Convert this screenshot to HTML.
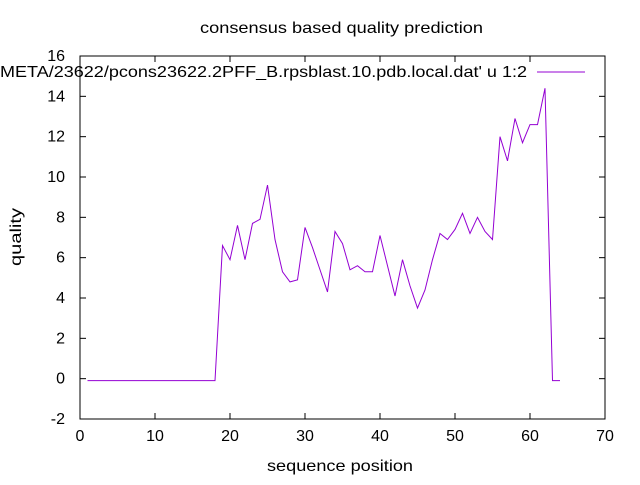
<!DOCTYPE html>
<html><head><meta charset="utf-8"><style>
body{margin:0;background:#fff}
svg text{font-family:"Liberation Sans",sans-serif;font-size:16px;fill:#000}
</style></head><body>
<svg width="640" height="480">
<rect width="640" height="480" fill="#fff"/>
<g id="axes"></g>
<text x="200" y="33" textLength="283" lengthAdjust="spacingAndGlyphs">consensus based quality prediction</text>
<text x="267" y="471" textLength="146" lengthAdjust="spacingAndGlyphs">sequence position</text>
<text transform="translate(21,266) rotate(-90)" textLength="58" lengthAdjust="spacingAndGlyphs">quality</text>
<text x="0" y="77" textLength="527" lengthAdjust="spacingAndGlyphs">META/23622/pcons23622.2PFF_B.rpsblast.10.pdb.local.dat' u 1:2</text>
<line x1="537" y1="72" x2="585" y2="72" stroke="#9400d3" stroke-width="1"/>
<polyline id="series" fill="none" stroke="#9400d3" stroke-width="1"/>
</svg>
<script>
const xTicks=[0,10,20,30,40,50,60,70];
const yTicks=[-2,0,2,4,6,8,10,12,14,16];
const positions=[];for(let i=1;i<=64;i++)positions.push(i);
const quality=[-0.1,-0.1,-0.1,-0.1,-0.1,-0.1,-0.1,-0.1,-0.1,-0.1,-0.1,-0.1,-0.1,-0.1,-0.1,-0.1,-0.1,-0.1,
6.6,5.9,7.6,5.9,7.7,7.9,9.6,6.9,5.3,4.8,4.9,7.5,6.5,5.4,4.3,7.3,6.7,5.4,5.6,5.3,5.3,7.1,5.6,4.1,5.9,4.6,3.5,4.4,5.9,7.2,6.9,7.4,8.2,7.2,8.0,7.3,6.9,12.0,10.8,12.9,11.7,12.6,12.6,14.4,-0.1,-0.1];
const L=80,R=605,T=56,B=419;
const sx=v=>L+(v-0)/70*(R-L);
const sy=v=>B-(v+2)/18*(B-T);
const NS='http://www.w3.org/2000/svg';
const g=document.getElementById('axes');
function mk(t,a){const e=document.createElementNS(NS,t);for(const k in a)e.setAttribute(k,a[k]);g.appendChild(e);return e;}
const box=mk('rect',{x:L,y:T,width:R-L,height:B-T,fill:'none',stroke:'#000','stroke-width':1});


xTicks.forEach(v=>{const x=sx(v);
mk('line',{x1:x,y1:B,x2:x,y2:B-6,stroke:'#000'});mk('line',{x1:x,y1:T,x2:x,y2:T+6,stroke:'#000'});
const t=mk('text',{x:x,y:B+22,'text-anchor':'middle'});t.textContent=v;

});
yTicks.forEach(v=>{const y=sy(v);
mk('line',{x1:L,y1:y,x2:L+6,y2:y,stroke:'#000'});mk('line',{x1:R,y1:y,x2:R-6,y2:y,stroke:'#000'});
const t=mk('text',{x:L-15,y:y+5,'text-anchor':'end'});t.textContent=v;

});
document.getElementById('series').setAttribute('points',positions.map((p,i)=>sx(p)+','+sy(quality[i])).join(' '));
</script>
</body></html>
